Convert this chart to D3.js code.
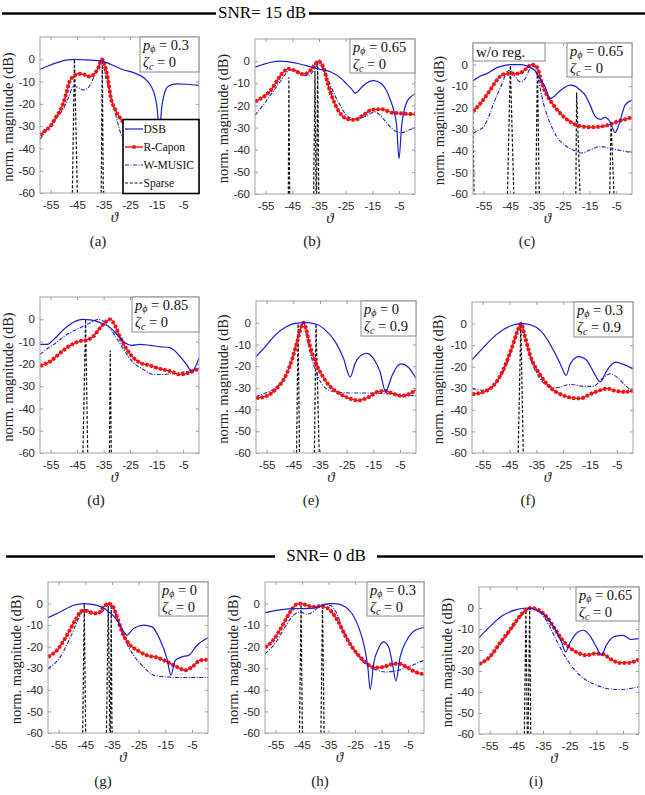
<!DOCTYPE html>
<html><head><meta charset="utf-8">
<script src="https://cdn.jsdelivr.net/npm/d3@7/dist/d3.min.js"></script>
<style>body{margin:0;background:#fff;}svg{display:block;}</style>
</head><body>
<svg id="chart" width="645" height="795"></svg>
<script>
// ---------- axis / labels ----------
const xTicks = [-55, -45, -35, -25, -15, -5];
const yTicks = [0, -10, -20, -30, -40, -50, -60];
const xDomain = [-59, 1];
const yDomain = [-60, 10];
const seriesNames = ["DSB", "R-Capon", "W-MUSIC", "Sparse"];
const panelLetters = ["(a)", "(b)", "(c)", "(d)", "(e)", "(f)", "(g)", "(h)", "(i)"];
const pPhi = ["0.3", "0.65", "0.65", "0.85", "0", "0.3", "0", "0.3", "0.65"];
const zetaC = ["0", "0", "0", "0", "0.9", "0.9", "0", "0", "0"];
const snrTitles = ["SNR= 15 dB", "SNR= 0 dB"];

// ---------- data: [theta (deg), dB] ----------
const dsbA = [[-59,-4.5],[-56,-3],[-52,-1.3],[-48.5,-0.3],[-46,0],[-43,-0.2],[-40,-0.4],[-37.5,-0.6],[-35.5,-0.8],[-32.4,-2.2],[-27.4,-4.8],[-23.7,-6],[-20,-8.2],[-16.8,-12.7],[-14.9,-21],[-13.9,-32],[-13,-21],[-12.2,-16],[-10.5,-12],[-7.4,-11],[-3.6,-11.2],[1,-11.7]];
const caponA = [[-59,-34.2],[-57,-32],[-55,-30],[-53,-26],[-50.6,-21],[-49,-15],[-48,-10.5],[-46.2,-7.5],[-44.3,-6.5],[-42.5,-6.8],[-41,-7.5],[-40,-7.8],[-38.5,-6.5],[-37,-4],[-35.6,0],[-34.2,-4],[-33.2,-10],[-32.4,-16.5],[-30.6,-22.5],[-28.4,-27],[-26,-30],[-22,-33],[-16,-36],[-10,-38],[-4,-39],[1,-39.3]];
const musicA = [[-59,-36],[-56,-31],[-53,-26.5],[-50.6,-23],[-48,-16.5],[-46.5,-12],[-45,-12.5],[-42.5,-13.8],[-41,-13],[-40,-11.3],[-38,-6],[-36.5,-2],[-35.8,0],[-34,-9],[-32,-17],[-30.6,-24],[-28.4,-33.7],[-26,-38],[-22,-42],[-15,-45],[-8,-46],[1,-46]];
const sparseA = [[-46.8,-46,-44.9,0],[-35.9,-35.5,-35.1,-0.3]];

const dsbB = [[-59,-2.7],[-56,-1.5],[-53,-0.5],[-49.6,0],[-47,-0.2],[-44,-0.8],[-41.5,-1.5],[-39,-2.3],[-35.3,-3.5],[-30.3,-5],[-26.5,-8],[-24.5,-10.5],[-22.75,-12.6],[-21.5,-14.4],[-20.5,-13.8],[-19,-11.8],[-17,-9.8],[-14.6,-8.8],[-12.5,-9.5],[-11.5,-10.3],[-9.8,-13],[-8.4,-17],[-6.8,-23],[-5.9,-29],[-5,-44],[-4,-29],[-3,-22],[-2.1,-18.6],[-0.5,-16],[1,-14.8]];
const caponB = [[-59,-18.3],[-57,-17],[-55.25,-15.6],[-53,-13],[-51.5,-10.3],[-49,-5.8],[-46.5,-3.5],[-44,-4.2],[-41.5,-5.8],[-39.6,-5.5],[-37.75,-3.5],[-36.5,-1.5],[-35.25,0],[-34.3,-0.8],[-33.4,-2.7],[-31.5,-11],[-29,-19.4],[-26.5,-24.4],[-24,-26.2],[-21.5,-26.5],[-18.4,-24.4],[-15.25,-22],[-11.5,-21.7],[-7.75,-23.2],[-4,-23.6],[1,-24]];
const musicB = [[-59,-24.4],[-56,-20],[-53,-15],[-50,-10],[-48,-6.5],[-47,-5],[-45,-3.8],[-43,-4.8],[-41,-6.2],[-39,-6.5],[-37.5,-5],[-36.5,-3.2],[-35.3,-1.5],[-34,-2.5],[-32.75,-5],[-31,-10],[-29,-15.6],[-27,-20],[-25,-24],[-21.5,-26.2],[-17.75,-25],[-14,-23],[-12,-24.5],[-10.25,-27],[-6.5,-31.5],[-4,-32.3],[-2,-31.5],[1,-30]];
const sparseB = [[-46.5,-46.3,-46.0,-7.3],[-37,-36.5,-36.1,-4.5],[-35.9,-35.5,-35.1,-1]];

const dsbC = [[-59,-7.5],[-56.5,-5.5],[-53.7,-4.2],[-50,-1.4],[-47,-0.4],[-45,0],[-43,0],[-41.2,0],[-39,-0.5],[-37.4,-1.4],[-35.5,-3],[-34.3,-5.5],[-31.8,-10.3],[-29.9,-15.7],[-28.6,-15],[-26.5,-12.5],[-24.9,-11],[-22.4,-9.5],[-20.5,-10],[-18.6,-11.8],[-16.5,-14.5],[-14.8,-18.8],[-12.9,-24],[-11,-25.4],[-9.2,-24.5],[-7.3,-26.5],[-5.4,-31.5],[-4.2,-28.8],[-3,-24],[-1.6,-18.8],[1,-16.5]];
const caponC = [[-59,-21.8],[-56.2,-18],[-52.5,-11.8],[-50,-7.2],[-47.5,-4.5],[-44.3,-4.2],[-41.8,-4.2],[-39.3,-2.3],[-36.8,0],[-34.9,-1.1],[-33,-8.8],[-31.1,-14.2],[-28.6,-18.8],[-26.1,-22.6],[-22.4,-26.5],[-18.6,-28.5],[-14.8,-29],[-11,-28.8],[-7.3,-27.7],[-3.5,-26],[1,-24.5]];
const musicC = [[-59,-32],[-57,-30.5],[-55,-28.8],[-53,-24],[-51.2,-18],[-49.5,-13],[-48,-8.8],[-46.2,-3.4],[-45,-2.6],[-43,-5.7],[-41.2,-8],[-39.3,-6.5],[-37.4,-1.8],[-35.9,-0.8],[-34.3,-7.2],[-32.4,-18],[-29.9,-27.2],[-27.4,-33.4],[-23.6,-38],[-19.8,-40.3],[-18,-41],[-14.8,-39.5],[-11,-38],[-7.3,-38.8],[-3.5,-39.8],[1,-40.8]];
const sparseC = [[-59.8,-59.2,-58.6,-12],[-46,-44.9,-43.6,-0.5],[-35.3,-34.7,-34.0,-0.3],[-20.2,-19.9,-18.6,-13],[-7.4,-6.9,-5.8,-27]];

const dsbD = [[-59,-11.25],[-56.25,-11.25],[-53.75,-9],[-50,-4.5],[-46.25,-1.2],[-43.1,0],[-40,-0.3],[-36.25,-1.5],[-32.5,-3.75],[-29.4,-7.5],[-26.9,-10.5],[-24.4,-11.7],[-21.25,-11.25],[-17.5,-11.7],[-13.75,-12.3],[-10,-12.75],[-6.25,-16.5],[-3.75,-20.25],[-1.6,-23.25],[1,-17.25]];
const caponD = [[-59,-21],[-55,-18.75],[-51.25,-15],[-47.5,-11.7],[-43.75,-9.75],[-41.25,-9.3],[-38.75,-7.5],[-36.25,-3.75],[-33.75,-0.75],[-32.5,0],[-30.6,-3],[-28.75,-8.25],[-26.25,-13.5],[-23.75,-17.25],[-21.25,-19.5],[-17.5,-20.7],[-13.75,-22.2],[-10,-23.25],[-6.25,-24.75],[-3.75,-24.3],[-1.25,-23.25],[1,-22.2]];
const musicD = [[-59,-15.75],[-56,-13],[-53.75,-11.25],[-48.75,-6.75],[-43.75,-3.75],[-40,-1.5],[-36.9,0],[-33.75,-2.25],[-30.6,-7.5],[-27.5,-13.5],[-23.75,-19.5],[-20,-22.5],[-16.25,-24.75],[-12.5,-24.75],[-8.75,-24.3],[-5,-23.7],[-1.25,-22.8],[1,-22.2]];
const sparseD = [[-42.8,-41.8,-41.0,0],[-32.8,-32.5,-32.1,-14]];

const dsbE = [[-59,-15.6],[-55.5,-11],[-51.8,-5.7],[-48,-2.1],[-44.3,-0.3],[-40.5,0],[-36.8,-0.6],[-33,-3.4],[-29.3,-8.7],[-26.2,-16.4],[-23.7,-25],[-21.8,-18.7],[-19.3,-14.8],[-17.5,-14.1],[-15,-16.4],[-12.5,-22.5],[-10.4,-31.6],[-8.1,-24.8],[-6,-20],[-4.4,-19],[-1.9,-20.5],[1,-25.6]];
const caponE = [[-59,-34.7],[-55.5,-34],[-51.8,-30.9],[-48,-24.8],[-45.5,-17],[-43.7,-9.5],[-42,-1.8],[-41.2,0],[-40.3,-2.6],[-38.7,-11],[-36.8,-17.9],[-34.3,-24],[-31.2,-29.4],[-28,-32.4],[-24.3,-34.7],[-20.6,-35.8],[-16.9,-34.3],[-13.1,-31.7],[-10.6,-31.4],[-7.5,-32.7],[-4.4,-33.7],[-1.3,-32.7],[1,-30.9]];
const musicE = [[-59,-34],[-55.5,-32.4],[-51.8,-30],[-48,-24.8],[-45.5,-17],[-43.7,-8],[-42,-1],[-41.2,-0.3],[-40,-6.4],[-38,-17],[-35.5,-25.5],[-31.8,-31],[-28,-32],[-21.8,-32.4],[-15.6,-32.4],[-9.4,-32.7],[-4.4,-33.2],[1,-33.7]];
const sparseE = [[-43.8,-43.2,-42.7,-0.5],[-37.1,-36.5,-35.3,-0.5]];

const dsbF = [[-59,-16.8],[-54.7,-11],[-49.7,-4.9],[-44.7,-1.1],[-40.4,0],[-36,-1.1],[-32.3,-4.9],[-28.6,-12.5],[-26.1,-18.7],[-23.9,-24],[-22.4,-18.7],[-19.3,-15.3],[-16.2,-17.1],[-13.7,-22.5],[-11.2,-27],[-8.7,-21.7],[-5.6,-17.9],[-3.1,-18.7],[1,-21]];
const caponF = [[-59,-32.7],[-54.7,-31.7],[-50.9,-28.6],[-47.2,-21],[-44.1,-11],[-42,-3.4],[-40.7,0],[-39.5,-4.9],[-37.3,-14.8],[-33.5,-24],[-29.8,-29.7],[-26.1,-32.7],[-22.4,-34.3],[-18.6,-34.7],[-14.9,-32.7],[-11.2,-30.9],[-8.7,-30.1],[-5.6,-31.2],[-2.5,-31.7],[1,-31.2]];
const musicF = [[-59,-30.1],[-54.7,-30.9],[-49.7,-27],[-46,-18.7],[-43.5,-9.5],[-41.6,-1.8],[-40.7,-0.3],[-39.5,-4.9],[-37.3,-15.6],[-34.8,-23.3],[-31.1,-28.6],[-27.3,-29.7],[-22.4,-28.2],[-17.4,-29.1],[-13.7,-29.1],[-10.6,-25.6],[-7.5,-23.3],[-5,-24.8],[-1.9,-28.6],[1,-31.7]];
const sparseF = [[-41.8,-40.8,-39.9,0]];

const dsbG = [[-59,-6.5],[-54.4,-3.9],[-49.4,-0.8],[-45.4,0],[-40.6,-0.8],[-36.9,-3.1],[-33.1,-7.7],[-30.6,-13.1],[-29.4,-14.7],[-28,-13],[-26.9,-11.6],[-23.1,-10],[-20,-10.8],[-16.9,-17],[-14.4,-25.5],[-12.9,-33.2],[-11.25,-26.3],[-8.75,-24.7],[-6.25,-24],[-3.1,-19.3],[1,-15.8]];
const caponG = [[-59,-24.7],[-55.6,-21.6],[-51.9,-14.7],[-48.75,-7.7],[-46.25,-3.4],[-44.4,-3.4],[-41.9,-4.6],[-40,-4.3],[-38.1,-1.5],[-36.25,0],[-34.6,-1.5],[-33.1,-6.2],[-31.25,-13.1],[-28.75,-18.5],[-25.6,-21.6],[-21.9,-24],[-18.1,-25],[-14.4,-27],[-10.6,-29.4],[-7.5,-30.9],[-5,-29.4],[-1.9,-26.3],[1,-26]];
const musicG = [[-59,-30.1],[-54.4,-24.7],[-50.6,-15.5],[-47.5,-7],[-45.4,-2.8],[-43.1,-3.9],[-40.6,-4.9],[-38.1,-3.1],[-36.25,-0.3],[-35,-0.8],[-33.1,-7],[-30.6,-15.5],[-26.9,-24],[-23.1,-29.4],[-19.4,-33.2],[-14.4,-34],[-6.9,-34.3],[1,-34.3]];
const sparseG = [[-46.0,-45.4,-44.9,0],[-37.1,-36.4,-35.8,-1],[-35.6,-35.3,-35.0,-0.5]];

const dsbH = [[-59,-4.2],[-52.7,-2.8],[-47.7,-2.3],[-42.6,-2.3],[-38.8,-1.5],[-35.1,0],[-32.5,0],[-28.8,-1.5],[-26.2,-4.6],[-23.7,-10.8],[-21.8,-18.5],[-20.2,-29.4],[-19.3,-39.9],[-18,-27.8],[-16.2,-20.9],[-14.3,-17.8],[-12.4,-20],[-10.9,-27.8],[-9.6,-35.9],[-8,-24.7],[-5.5,-17],[-2.3,-12.4],[1,-11.1]];
const caponH = [[-59,-20.4],[-55.9,-17],[-52.7,-10.8],[-49.5,-3.9],[-47,-0.3],[-45.4,0],[-43.3,-0.8],[-40.7,-1.5],[-38.2,-1.2],[-35.7,-1.9],[-33.8,-3.9],[-31.3,-8.5],[-28.8,-14.7],[-26.2,-20],[-23.7,-24],[-20.6,-27.8],[-17.4,-29.7],[-14.3,-29.4],[-11.1,-28.1],[-8.6,-27.8],[-5.5,-29.4],[-2.3,-31.7],[1,-32.8]];
const musicH = [[-59,-23.2],[-55.2,-18.5],[-51.4,-10.8],[-48.3,-5.4],[-45.8,-3.9],[-43.3,-4.9],[-41.4,-4.3],[-38.8,-1.5],[-36.9,-0.3],[-34.4,-0.8],[-31.9,-4.6],[-29.4,-12.4],[-26.2,-20],[-22.5,-26.3],[-18.7,-29.7],[-13.6,-31.7],[-8.6,-30.9],[-3.6,-28.6],[1,-26.3]];
const sparseH = [[-46.0,-45.4,-44.9,-0.5],[-37.9,-37.3,-36.7,-0.5]];

const dsbI = [[-59,-14.1],[-55,-9],[-50,-3.5],[-45,-0.8],[-41.25,0],[-37.5,-1.1],[-33.75,-4.3],[-30.6,-9.8],[-28.1,-16.1],[-26.5,-20.9],[-25,-16.9],[-21.9,-11.4],[-20,-10.6],[-17.5,-13],[-15,-18.5],[-13.1,-22.5],[-11.25,-17.7],[-8.1,-13.5],[-5,-13],[-1.9,-15],[1,-14.6]];
const caponI = [[-59,-26.8],[-55,-23.3],[-51.25,-16.9],[-47.5,-10.6],[-44.4,-5.1],[-41.9,-1.4],[-39.4,0],[-36.9,-0.8],[-33.75,-4],[-30.6,-9.8],[-28.1,-14.6],[-25,-18.8],[-21.9,-21.4],[-18.75,-22.5],[-15.6,-21.7],[-12.5,-22],[-9.4,-24.5],[-6.25,-26.1],[-3.1,-26.1],[1,-24.5]];
const musicI = [[-59,-27.2],[-55,-23.3],[-51.25,-17.7],[-47.5,-11.4],[-44.4,-5.9],[-41.9,-1.9],[-39.4,0],[-36.9,-1.1],[-33.75,-5.9],[-30,-15.4],[-26.25,-24],[-22.5,-30.4],[-18.75,-34.4],[-15,-36.7],[-11.25,-38.3],[-6.25,-38.8],[1,-37.5]];
const sparseI = [[-42.0,-41.4,-40.9,-1],[-40.6,-40.0,-39.6,0]];

// ---------- layout (pixels) ----------
const layout = [
  {x0:40, x1:199, y0:37,  y1:193, ann:[140,37,199,72],   ylx:8,   lx:98,  ly:241},
  {x0:255,x1:415, y0:39,  y1:194, ann:[350,39,415,73],   ylx:223, lx:312, ly:241},
  {x0:473,x1:632, y0:43,  y1:194, ann:[567,43,632,77],   ylx:439, lx:527, ly:241},
  {x0:40, x1:199, y0:297, y1:453, ann:[132,297,199,332], ylx:8,   lx:96,  ly:500},
  {x0:256,x1:416, y0:301, y1:453, ann:[361,301,416,336], ylx:223, lx:311, ly:500},
  {x0:472,x1:633, y0:302, y1:453, ann:[574,302,633,337], ylx:438, lx:528, ly:500},
  {x0:48, x1:208, y0:582, y1:733, ann:[159,582,208,616], ylx:16,  lx:103, ly:781},
  {x0:265,x1:424, y0:582, y1:733, ann:[367,582,424,616], ylx:233, lx:320, ly:781},
  {x0:479,x1:639, y0:587, y1:734, ann:[576,587,639,621], ylx:447, lx:536, ly:781}
];

const panelData = [
  [dsbA, caponA, musicA, sparseA], [dsbB, caponB, musicB, sparseB], [dsbC, caponC, musicC, sparseC],
  [dsbD, caponD, musicD, sparseD], [dsbE, caponE, musicE, sparseE], [dsbF, caponF, musicF, sparseF],
  [dsbG, caponG, musicG, sparseG], [dsbH, caponH, musicH, sparseH], [dsbI, caponI, musicI, sparseI]
];

const BLUE = "#1c1cd4", BLUE2 = "#2222c4", RED = "#f01414";
const serif = "'Liberation Serif','Times New Roman',serif";
const sans = "'Liberation Sans',Arial,sans-serif";
const svg = d3.select("#chart");
const defs = svg.append("defs");

// ---------- section titles ----------
function title(txt, cx, yb, l0, l1, r0, r1) {
  svg.append("line").attr("x1", l0).attr("x2", l1).attr("y1", yb).attr("y2", yb).attr("stroke", "#000").attr("stroke-width", 2.6);
  svg.append("line").attr("x1", r0).attr("x2", r1).attr("y1", yb).attr("y2", yb).attr("stroke", "#000").attr("stroke-width", 2.6);
  svg.append("text").attr("x", cx).attr("y", yb + 4).attr("text-anchor", "middle")
    .attr("font-family", serif).attr("font-size", 17).attr("fill", "#000").text(txt);
}
title(snrTitles[0], 262, 13.5, 2, 216, 309, 645);
title(snrTitles[1], 326, 556.5, 6, 275, 377, 643);

// ---------- panels ----------
panelData.forEach((D, i) => {
  const L = layout[i];
  const [dsb, capon, music, sparse] = D;
  const x = d3.scaleLinear().domain(xDomain).range([L.x0, L.x1]);
  const y = d3.scaleLinear().domain(yDomain).range([L.y1, L.y0]);
  const g = svg.append("g");
  const cid = "clip" + i;
  defs.append("clipPath").attr("id", cid).append("rect")
    .attr("x", L.x0).attr("y", L.y0).attr("width", L.x1 - L.x0).attr("height", L.y1 - L.y0);

  g.append("rect").attr("x", L.x0).attr("y", L.y0).attr("width", L.x1 - L.x0).attr("height", L.y1 - L.y0).attr("fill", "#fff");

  const styleAxis = sel => {
    sel.select(".domain").remove();
    sel.selectAll("line").attr("stroke", "#9a9a9a");
    sel.selectAll("text").attr("font-family", sans).attr("font-size", 11.5).attr("fill", "#2a2a2a");
  };
  g.append("g").attr("transform", `translate(0,${L.y1})`)
    .call(d3.axisBottom(x).tickValues(xTicks).tickSize(-3).tickSizeOuter(0).tickPadding(8).tickFormat(d => String(d))).call(styleAxis);
  g.append("g").attr("transform", `translate(0,${L.y0})`)
    .call(d3.axisTop(x).tickValues(xTicks).tickSize(-3).tickSizeOuter(0).tickFormat("")).call(styleAxis);
  g.append("g").attr("transform", `translate(${L.x0},0)`)
    .call(d3.axisLeft(y).tickValues(yTicks).tickSize(-3).tickSizeOuter(0).tickPadding(5).tickFormat(d => String(d))).call(styleAxis);
  g.append("g").attr("transform", `translate(${L.x1},0)`)
    .call(d3.axisRight(y).tickValues(yTicks).tickSize(-3).tickSizeOuter(0).tickFormat("")).call(styleAxis);

  const line = d3.line().x(d => x(d[0])).y(d => y(d[1])).curve(d3.curveMonotoneX);
  const plot = g.append("g").attr("clip-path", `url(#${cid})`);

  // sparse spikes
  sparse.forEach(s => {
    const pts = [[s[0], yDomain[0]], [s[1], s[3]], [s[2], yDomain[0]]];
    plot.append("path").attr("d", d3.line().x(d => x(d[0])).y(d => y(d[1]))(pts))
      .attr("fill", "none").attr("stroke", "#111").attr("stroke-width", 1.2).attr("stroke-dasharray", "3 1.8");
  });
  // W-MUSIC
  plot.append("path").attr("d", line(music)).attr("fill", "none").attr("stroke", BLUE2)
    .attr("stroke-width", 1.1).attr("stroke-dasharray", "4 1.5 1 1.5");
  // R-Capon line + square markers
  plot.append("path").attr("d", line(capon)).attr("fill", "none").attr("stroke", RED).attr("stroke-width", 1.5);
  plot.append("path").attr("d", line(capon)).attr("fill", "none").attr("stroke", RED)
    .attr("stroke-width", 3.8).attr("stroke-dasharray", "3 1.7");
  // DSB
  plot.append("path").attr("d", line(dsb)).attr("fill", "none").attr("stroke", BLUE).attr("stroke-width", 1.2);

  // box
  g.append("rect").attr("x", L.x0).attr("y", L.y0).attr("width", L.x1 - L.x0).attr("height", L.y1 - L.y0)
    .attr("fill", "none").attr("stroke", "#a4a4a4").attr("stroke-width", 1);

  // annotation box
  const [ax0, ay0, ax1, ay1] = L.ann;
  g.append("rect").attr("x", ax0).attr("y", ay0).attr("width", ax1 - ax0).attr("height", ay1 - ay0)
    .attr("fill", "#fff").attr("stroke", "#8a8a8a").attr("stroke-width", 1);
  const t1 = g.append("text").attr("x", ax0 + 3).attr("y", ay0 + 12.5).attr("font-family", serif).attr("font-size", 14.5).attr("fill", "#111");
  t1.append("tspan").attr("font-style", "italic").text("p");
  t1.append("tspan").attr("font-style", "italic").attr("font-size", 10).attr("dy", 2.5).text("ϕ");
  t1.append("tspan").attr("dy", -2.5).text(" = " + pPhi[i]);
  const t2 = g.append("text").attr("x", ax0 + 3).attr("y", ay0 + 30).attr("font-family", serif).attr("font-size", 14.5).attr("fill", "#111");
  t2.append("tspan").attr("font-style", "italic").text("ζ");
  t2.append("tspan").attr("font-style", "italic").attr("font-size", 10).attr("dy", 2.5).text("c");
  t2.append("tspan").attr("dy", -2.5).text(" = " + zetaC[i]);

  // labels
  g.append("text").attr("transform", `translate(${L.ylx},${(L.y0 + L.y1) / 2 + 2}) rotate(-90)`)
    .attr("text-anchor", "middle").attr("dominant-baseline", "central")
    .attr("font-family", serif).attr("font-size", 14.5).attr("fill", "#222").text("norm. magnitude (dB)");
  g.append("text").attr("x", (L.x0 + L.x1) / 2 - 5).attr("y", L.y1 + 29)
    .attr("text-anchor", "middle").attr("font-family", serif).attr("font-style", "italic")
    .attr("font-size", 15).attr("fill", "#222").text("ϑ");
  g.append("text").attr("x", L.lx).attr("y", L.ly + 5).attr("text-anchor", "middle")
    .attr("font-family", serif).attr("font-size", 15).attr("fill", "#222").text(panelLetters[i]);
});

// "w/o reg." box in panel (c)
svg.append("rect").attr("x", 473).attr("y", 43).attr("width", 72).attr("height", 18)
  .attr("fill", "#fff").attr("stroke", "#8a8a8a");
svg.append("text").attr("x", 476).attr("y", 57).attr("font-family", serif).attr("font-size", 15)
  .attr("fill", "#111").text("w/o reg.");

// legend in panel (a)
const lg = svg.append("g");
lg.append("rect").attr("x", 123).attr("y", 119.5).attr("width", 76).attr("height", 74)
  .attr("fill", "#fff").attr("stroke", "#000").attr("stroke-width", 1.6);
const legY = [129, 147, 165, 183];
seriesNames.forEach((nm, k) => {
  const yy = legY[k];
  const ln = lg.append("line").attr("x1", 125).attr("x2", 143).attr("y1", yy).attr("y2", yy).attr("fill", "none");
  if (k === 0) ln.attr("stroke", BLUE).attr("stroke-width", 1.2);
  if (k === 1) {
    ln.attr("stroke", RED).attr("stroke-width", 1.4);
    lg.append("rect").attr("x", 132.3).attr("y", yy - 1.7).attr("width", 3.4).attr("height", 3.4).attr("fill", RED);
  }
  if (k === 2) ln.attr("stroke", BLUE2).attr("stroke-width", 1.1).attr("stroke-dasharray", "4 1.5 1 1.5");
  if (k === 3) ln.attr("stroke", "#111").attr("stroke-width", 1.2).attr("stroke-dasharray", "3 1.8");
  lg.append("text").attr("x", 143.5).attr("y", yy + 4).attr("font-family", serif).attr("font-size", 11.5)
    .attr("fill", "#111").text(nm);
});
</script>
</body></html>
